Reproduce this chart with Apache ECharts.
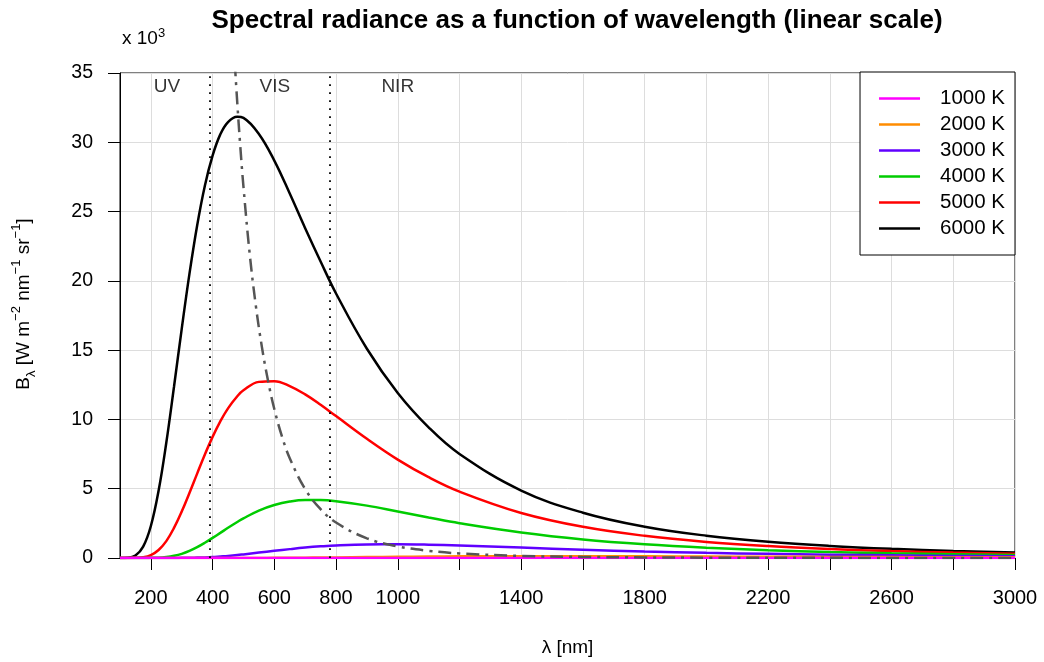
<!DOCTYPE html>
<html>
<head>
<meta charset="utf-8">
<script src="https://cdn.jsdelivr.net/npm/echarts@6/dist/echarts.min.js"></script>
<style>
  html, body { margin: 0; padding: 0; background: #fff; }
  #chart { width: 1044px; height: 662px; }
</style>
</head>
<body>
<div id="chart"></div>
<script>
// wavelengths (nm) shared by the Planck curves
const wavelengths = [100, 125, 150, 175, 200, 225, 250, 275, 300, 325, 350, 375, 400, 425, 450, 480, 500, 550, 600, 650, 700, 750, 800, 900, 1000, 1100, 1200, 1400, 1600, 1800, 2000, 2200, 2400, 2600, 2800, 3000];

// spectral radiance, x 10^3 W m-2 nm-1 sr-1
const rad6000 = [0, 0.02, 0.18, 0.82, 2.31, 4.85, 8.32, 12.36, 16.54, 20.5, 24.0, 26.87, 29.04, 30.57, 31.46, 31.84, 31.76, 30.6, 28.68, 26.3, 23.8, 21.4, 19.09, 15.1, 11.91, 9.43, 7.51, 4.87, 3.27, 2.26, 1.61, 1.17, 0.87, 0.66, 0.51, 0.40];
const rad5000 = [0, 0, 0.01, 0.05, 0.21, 0.58, 1.22, 2.17, 3.35, 4.69, 6.09, 7.47, 8.74, 9.86, 10.8, 11.67, 12.1, 12.71, 12.76, 12.41, 11.81, 11.06, 10.24, 8.6, 7.1, 5.83, 4.79, 3.25, 2.25, 1.6, 1.16, 0.86, 0.65, 0.5, 0.39, 0.31];
const rad4000 = [0, 0, 0, 0, 0.01, 0.02, 0.07, 0.16, 0.3, 0.51, 0.78, 1.1, 1.45, 1.81, 2.18, 2.6, 2.86, 3.42, 3.82, 4.07, 4.18, 4.18, 4.1, 3.78, 3.35, 2.92, 2.51, 1.84, 1.34, 0.99, 0.74, 0.56, 0.43, 0.34, 0.27, 0.21];
const rad3000 = [0, 0, 0, 0, 0, 0, 0, 0, 0.01, 0.01, 0.03, 0.045, 0.07, 0.11, 0.15, 0.21, 0.26, 0.39, 0.52, 0.64, 0.75, 0.84, 0.91, 0.98, 0.99, 0.96, 0.9, 0.75, 0.6, 0.47, 0.37, 0.3, 0.24, 0.19, 0.15, 0.12];
const rad2000 = [0, 0, 0, 0, 0, 0, 0, 0, 0, 0, 0, 0, 0, 0, 0, 0, 0.002, 0.005, 0.01, 0.016, 0.024, 0.034, 0.045, 0.068, 0.089, 0.107, 0.12, 0.13, 0.128, 0.118, 0.105, 0.091, 0.079, 0.067, 0.057, 0.049];
const rad1000 = [0, 0, 0, 0, 0, 0, 0, 0, 0, 0, 0, 0, 0, 0, 0, 0, 0, 0, 0, 0, 0, 0, 0, 0, 0, 0, 0, 0.001, 0.001, 0.002, 0.003, 0.003, 0.004, 0.004, 0.004, 0.004];

// locus of the maxima (dash-dot curve)
const wienX = [472, 480, 490, 500, 520, 540, 560, 580, 600, 625, 650, 700, 750, 800, 900, 1000, 1100, 1200, 1400, 1600, 1800, 2000, 2500, 3000];
const wienY = [35.7, 32.85, 29.63, 26.8, 22.0, 18.23, 15.2, 12.76, 10.75, 8.76, 7.2, 4.97, 3.52, 2.56, 1.42, 0.84, 0.52, 0.33, 0.15, 0.08, 0.044, 0.026, 0.008, 0.003];

const tempNames = ['1000 K', '2000 K', '3000 K', '4000 K', '5000 K', '6000 K'];
const tempColors = ['#ff00ff', '#ff8c00', '#6000ff', '#00cc00', '#ff0000', '#000000'];
const tempValues = [rad1000, rad2000, rad3000, rad4000, rad5000, rad6000];

// band borders and labels
const bandBorders = [390, 780];
const bandNames = ['UV', 'VIS', 'NIR'];
const bandX = [252, 602, 1000];
const bandY = 34;

const xTicks = [200, 400, 600, 800, 1000, 1200, 1400, 1600, 1800, 2000, 2200, 2400, 2600, 2800, 3000];
const xLabels = [200, 400, 600, 800, 1000, 1400, 1800, 2200, 2600, 3000];

const chart = echarts.init(document.getElementById('chart'), null, { renderer: 'canvas' });
const font = 'Liberation Sans, Arial, Helvetica, sans-serif';

const series = [];
// draw hottest first so the cooler curves sit on top near zero
for (let i = tempNames.length - 1; i >= 0; i--) {
  series.push({
    name: tempNames[i],
    type: 'line',
    data: wavelengths.map((w, j) => [w, tempValues[i][j]]),
    showSymbol: false,
    smooth: 0.4,
    lineStyle: { color: tempColors[i], width: 2.5 },
    itemStyle: { color: tempColors[i] },
    z: 3
  });
}
series.push({
  name: 'wien',
  type: 'line',
  data: wienX.map((w, j) => [w, wienY[j]]),
  showSymbol: false,
  smooth: 0.4,
  clip: true,
  lineStyle: { color: '#555555', width: 2.5, type: [13, 6, 3, 6] },
  z: 4,
  markLine: {
    silent: true,
    symbol: ['none', 'none'],
    label: { show: false },
    lineStyle: { color: '#000', width: 1.8, type: [1.8, 6.2] },
    data: bandBorders.map(v => ({ xAxis: v }))
  }
});
series.push({
  name: 'bands',
  type: 'scatter',
  symbolSize: 0,
  silent: true,
  data: bandNames.map((n, i) => ({ name: n, value: [bandX[i], bandY] })),
  label: {
    show: true,
    position: 'inside',
    formatter: p => p.name,
    color: '#000',
    fontSize: 19,
    fontFamily: font
  },
  z: 5
});

const option = {
  animation: false,
  backgroundColor: '#fff',
  title: {
    text: 'Spectral radiance as a function of wavelength (linear scale)',
    left: 572,
    textAlign: 'center',
    top: 3,
    textStyle: { fontSize: 26, fontWeight: 'bold', color: '#000', fontFamily: font }
  },
  graphic: [{
    type: 'text',
    left: 122,
    top: 27,
    style: {
      text: '{t|x 10}{sup|3}',
      rich: {
        t: { fontSize: 19, fontFamily: font, fill: '#000', lineHeight: 24 },
        sup: { fontSize: 13, fontFamily: font, fill: '#000', lineHeight: 12, verticalAlign: 'top' }
      }
    }
  }, {
    type: 'text',
    x: 24,
    y: 304,
    rotation: Math.PI / 2,
    style: {
      text: '{t|B}{sub|λ}{t| [W m}{sup|−2}{t| nm}{sup|−1}{t| sr}{sup|−1}{t|]}',
      align: 'center',
      verticalAlign: 'middle',
      rich: {
        t: { fontSize: 19, fill: '#000', fontFamily: font, lineHeight: 28 },
        sub: { fontSize: 13, fill: '#000', fontFamily: font, lineHeight: 14, verticalAlign: 'bottom' },
        sup: { fontSize: 13, fill: '#000', fontFamily: font, lineHeight: 14, verticalAlign: 'top' }
      }
    }
  }],
  legend: {
    data: tempNames,
    orient: 'vertical',
    right: 29,
    top: 72,
    icon: 'rect',
    itemWidth: 41,
    itemHeight: 2.5,
    itemGap: 5,
    padding: [16, 10, 16, 19],
    backgroundColor: '#fff',
    borderColor: '#000',
    borderWidth: 1,
    borderRadius: 0,
    textStyle: { fontSize: 20.5, color: '#000', fontFamily: font, lineHeight: 20, padding: [0, 0, 0, 15] }
  },
  grid: {
    left: 120,
    right: 29,
    top: 73,
    bottom: 104,
    show: true,
    borderColor: '#000',
    borderWidth: 1,
    backgroundColor: 'transparent'
  },
  xAxis: {
    type: 'value',
    min: 100,
    max: 3000,
    name: 'λ [nm]',
    nameLocation: 'middle',
    nameGap: 80,
    nameTextStyle: { fontSize: 19, color: '#000', fontFamily: font },
    axisLine: { show: true, lineStyle: { color: '#000', width: 1 } },
    axisTick: { show: true, length: 12, customValues: xTicks, lineStyle: { color: '#000', width: 1 } },
    axisLabel: { customValues: xLabels, formatter: v => String(v), fontSize: 20, color: '#000', margin: 30, fontFamily: font },
    splitLine: { show: true, lineStyle: { color: '#dddddd', width: 1 } }
  },
  yAxis: {
    type: 'value',
    min: 0,
    max: 35,
    interval: 5,
    axisLine: { show: true, lineStyle: { color: '#000', width: 1 } },
    axisTick: { show: true, length: 12, lineStyle: { color: '#000', width: 1 } },
    axisLabel: { fontSize: 19.5, color: '#000', margin: 27, fontFamily: font },
    splitLine: { show: true, lineStyle: { color: '#dddddd', width: 1 } }
  },
  series
};

chart.setOption(option);
</script>
</body>
</html>
